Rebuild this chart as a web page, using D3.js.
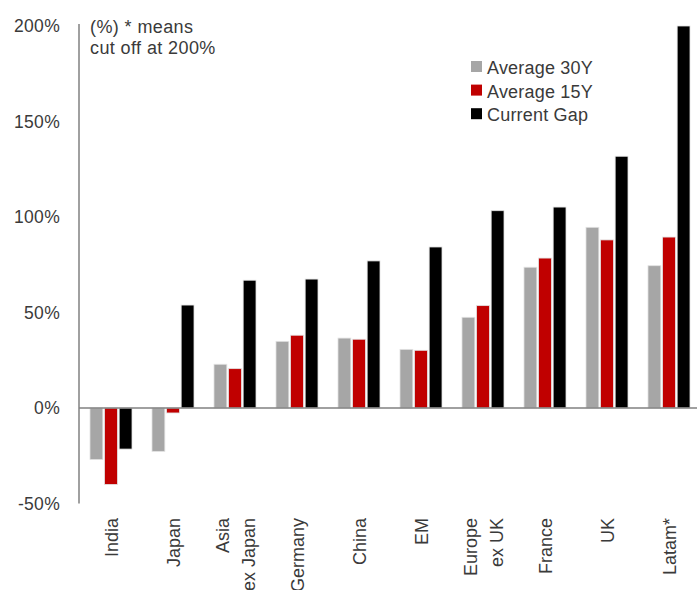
<!DOCTYPE html>
<html><head><meta charset="utf-8">
<script src="https://cdn.jsdelivr.net/npm/d3@7"></script>
<style>body{margin:0;background:#fff}svg{display:block}text{font-family:"Liberation Sans",Arial,sans-serif;fill:#3a3a3a}</style>
</head><body>
<script>
const categories = [["India"],["Japan"],["Asia","ex Japan"],["Germany"],["China"],["EM"],["Europe","ex UK"],["France"],["UK"],["Latam*"]];
const avg30 = [-27, -22.7, 22.9, 34.9, 36.6, 30.7, 47.5, 73.7, 94.6, 74.5];
const avg15 = [-40, -2.6, 20.6, 38.1, 36, 30.2, 53.6, 78.5, 88, 89.5];
const currentGap = [-21.5, 53.9, 66.9, 67.5, 77, 84.3, 103.3, 105.2, 131.8, 200];
const seriesNames = ["Average 30Y","Average 15Y","Current Gap"];
const seriesColors = ["#A6A6A6","#C00000","#000000"];
const yTicks = [-50, 0, 50, 100, 150, 200];

const W = 697, H = 590;
const svg = d3.select("body").append("svg").attr("width", W).attr("height", H);
const keys = categories.map(c => c.join(" "));
const x = d3.scaleBand().domain(keys).range([80, 700]);
const x1 = d3.scaleBand().domain(seriesNames).range([x.bandwidth()/2 - 21, x.bandwidth()/2 + 21]).paddingInner(0.12);
const y = d3.scaleLinear().domain([-50, 200]).range([503.5, 26]);

const series = [avg30, avg15, currentGap];
// y axis
const yAxis = d3.axisLeft(y).tickValues(yTicks).tickSize(0).tickPadding(19).tickFormat(d => d + "%");
const ga = svg.append("g").attr("transform", "translate(79,0)").call(yAxis);
ga.select(".domain").attr("stroke", "#808080").attr("stroke-width", 1.5).attr("d", `M0,${y(200)-2}V${y(-50)}`);
ga.selectAll("text").style("font-size", "17.5px").style("letter-spacing", "0.3px").attr("fill", "#3a3a3a").style("font-family", '"Liberation Sans",Arial,sans-serif');

// bars
seriesNames.forEach((s, si) => {
  svg.append("g").selectAll("rect").data(series[si]).join("rect")
    .attr("x", (d, i) => x(keys[i]) + x1(s))
    .attr("width", x1.bandwidth())
    .attr("y", d => y(Math.max(0, d)))
    .attr("height", d => Math.abs(y(d) - y(0)))
    .attr("fill", seriesColors[si])
    .attr("stroke", "#e2e2e2").attr("stroke-width", 0.8);
});

// zero line
svg.append("line").attr("x1", 79).attr("x2", W).attr("y1", y(0)).attr("y2", y(0))
  .attr("stroke", "#808080").attr("stroke-width", 1.5);

// x labels
categories.forEach((lines, i) => {
  const cx = x(keys[i]) + x.bandwidth()/2;
  const n = lines.length;
  lines.forEach((ln, li) => {
    const off = (li - (n - 1) / 2) * 26;
    svg.append("text").attr("transform", `translate(${cx + off + 6.5},518) rotate(-90)`)
      .attr("text-anchor", "end").style("font-size", "18px").text(ln);
  });
});

// annotation
const ann = svg.append("text").attr("x", 90).style("font-size", "18px").style("letter-spacing", "0.4px");
ann.append("tspan").attr("x", 90).attr("y", 33).text("(%) * means");
ann.append("tspan").attr("x", 90).attr("y", 54).text("cut off at 200%");

// legend
const lg = svg.append("g");
seriesNames.forEach((s, i) => {
  const yy = 74 + i * 23.6;
  lg.append("rect").attr("x", 471).attr("y", yy - 13).attr("width", 11).attr("height", 11).attr("fill", seriesColors[i]);
  lg.append("text").attr("x", 487).attr("y", yy).style("font-size", "18px").style("letter-spacing", "0.2px").text(s);
});
</script>
</body></html>
